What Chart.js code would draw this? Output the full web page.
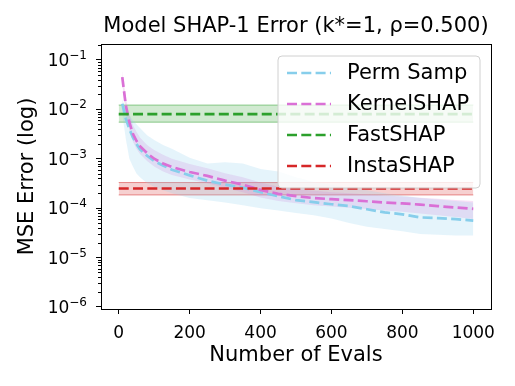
<!DOCTYPE html>
<html>
<head>
<meta charset="utf-8">
<script src="https://cdn.jsdelivr.net/npm/chart.js@4.4.1/dist/chart.umd.min.js"></script>
<style>
  html, body { margin: 0; padding: 0; background: #fff; }
  #wrap { width: 515px; height: 386px; }
</style>
</head>
<body>
<div id="wrap"><canvas id="shapErr" width="515" height="386"></canvas></div>
<script>
// values
const evals = [10, 20, 30, 40, 50, 60, 80, 100, 125, 150, 200, 250, 300, 350, 400,
               450, 500, 550, 600, 650, 700, 750, 800, 850, 900, 950, 1000];

const permMean = [1.3e-2, 6.5e-3, 4.0e-3, 2.7e-3, 2.0e-3, 1.55e-3, 1.15e-3, 9.0e-4, 7.3e-4, 6.0e-4,
                  4.6e-4, 3.6e-4, 3.0e-4, 2.6e-4, 2.1e-4, 1.75e-4, 1.45e-4, 1.32e-4, 1.2e-4, 1.1e-4,
                  9.5e-5, 8.2e-5, 7.5e-5, 6.5e-5, 6.3e-5, 6.0e-5, 5.6e-5];
const permUpper = [1.6e-2, 1.0e-2, 7.5e-3, 6.0e-3, 5.0e-3, 4.2e-3, 3.0e-3, 2.4e-3, 1.9e-3, 1.6e-3,
                   1.05e-3, 8.0e-4, 8.5e-4, 8.0e-4, 6.2e-4, 5.5e-4, 4.2e-4, 3.4e-4, 3.0e-4, 2.6e-4,
                   2.3e-4, 2.0e-4, 1.8e-4, 1.6e-4, 1.5e-4, 1.4e-4, 1.3e-4];
const permLower = [8.0e-3, 2.5e-3, 1.0e-3, 7.0e-4, 5.0e-4, 4.2e-4, 3.2e-4, 2.7e-4, 2.3e-4, 2.0e-4,
                   1.6e-4, 1.45e-4, 1.3e-4, 1.15e-4, 1.0e-4, 9.0e-5, 8.0e-5, 7.2e-5, 6.2e-5, 5.0e-5,
                   4.2e-5, 3.8e-5, 3.4e-5, 3.0e-5, 2.9e-5, 2.8e-5, 2.8e-5];

const kernelMean = [4.5e-2, 1.2e-2, 5.5e-3, 3.2e-3, 2.3e-3, 1.8e-3, 1.3e-3, 1.0e-3, 8.0e-4, 6.8e-4,
                    5.4e-4, 4.5e-4, 3.6e-4, 3.0e-4, 2.35e-4, 1.95e-4, 1.75e-4, 1.6e-4, 1.52e-4, 1.45e-4,
                    1.38e-4, 1.3e-4, 1.25e-4, 1.18e-4, 1.1e-4, 1.03e-4, 9.7e-5];
const kernelUpper = [6.0e-2, 1.7e-2, 8.0e-3, 4.8e-3, 3.5e-3, 2.7e-3, 1.9e-3, 1.5e-3, 1.2e-3, 1.0e-3,
                     7.8e-4, 6.4e-4, 5.1e-4, 4.2e-4, 3.3e-4, 2.7e-4, 2.45e-4, 2.25e-4, 2.1e-4, 2.0e-4,
                     1.9e-4, 1.8e-4, 1.72e-4, 1.63e-4, 1.55e-4, 1.47e-4, 1.4e-4];
const kernelLower = [3.2e-2, 8.5e-3, 3.8e-3, 2.2e-3, 1.6e-3, 1.25e-3, 9.0e-4, 7.0e-4, 5.5e-4, 4.7e-4,
                     3.8e-4, 3.2e-4, 2.6e-4, 2.1e-4, 1.65e-4, 1.4e-4, 1.25e-4, 1.15e-4, 1.08e-4, 1.02e-4,
                     9.6e-5, 9.0e-5, 8.5e-5, 7.8e-5, 7.2e-5, 6.6e-5, 6.0e-5];

// flat baselines, drawn over the whole eval range
const flatRange = [0, 1000];
const fastMean = 8.0e-3, fastLower = 5.5e-3, fastUpper = 1.22e-2;
const instaMean = 2.5e-4, instaLower = 1.85e-4, instaUpper = 3.3e-4;

const seriesNames = ['Perm Samp', 'KernelSHAP', 'FastSHAP', 'InstaSHAP'];
const yTickExps = [-6, -5, -4, -3, -2, -1];
const xTicks = [0, 200, 400, 600, 800, 1000];
const titleText = 'Model SHAP-1 Error (k*=1, \u03c1=0.500)';

const colors = ['#87ceeb', '#da70d6', '#2ca02c', '#d62728'];
const bandFill = ['rgba(135,206,235,0.22)', 'rgba(218,112,214,0.22)', 'rgba(44,160,44,0.22)', 'rgba(214,39,40,0.22)'];
const bandEdge = ['rgba(0,0,0,0)', 'rgba(0,0,0,0)', 'rgba(44,160,44,0.5)', 'rgba(214,39,40,0.5)'];
const dash = [10, 4.3];
const FONT = "'DejaVu Sans', sans-serif";

function pts(xs, ys) {
    var out = [];
    for (var i = 0; i < xs.length; i++) out.push({x: xs[i], y: ys[i]});
    return out;
}
function flat(v) { return pts(flatRange, [v, v]); }

function bandPair(lo, hi, k) {
    return [
        {data: lo, borderWidth: k >= 2 ? 1 : 0, borderColor: bandEdge[k], pointRadius: 0, fill: false, order: 5, tension: 0},
        {data: hi, borderWidth: k >= 2 ? 1 : 0, borderColor: bandEdge[k], backgroundColor: bandFill[k], pointRadius: 0, fill: '-1', order: 5, tension: 0}
    ];
}
function line(data, k) {
    return {label: seriesNames[k], data: data, borderColor: colors[k], borderWidth: 2.7, borderDash: dash,
            pointRadius: 0, fill: false, order: 4 - k, tension: 0};
}

const datasets = [].concat(
    bandPair(pts(evals, permLower), pts(evals, permUpper), 0),
    bandPair(pts(evals, kernelLower), pts(evals, kernelUpper), 1),
    bandPair(flat(fastLower), flat(fastUpper), 2),
    bandPair(flat(instaLower), flat(instaUpper), 3),
    [line(pts(evals, permMean), 0), line(pts(evals, kernelMean), 1), line(flat(fastMean), 2), line(flat(instaMean), 3)]
);

// box round the plot, minor log ticks, 10^n labels, title and the legend
const framePlugin = {
    id: 'frame',
    afterDatasetsDraw(chart) {
        const ctx = chart.ctx, a = chart.chartArea, ys = chart.scales.y;
        ctx.save();
        ctx.strokeStyle = '#000';
        ctx.lineWidth = 1;
        ctx.beginPath();
        for (var e = -7; e <= 0; e++) {
            for (var m = 2; m <= 9; m++) {
                var v = m * Math.pow(10, e);
                if (v < ys.min || v > ys.max) continue;
                var py = Math.round(ys.getPixelForValue(v)) + 0.5;
                ctx.moveTo(a.left - 3, py);
                ctx.lineTo(a.left, py);
            }
        }
        ctx.stroke();
        ctx.strokeRect(Math.round(a.left) + 0.5, Math.round(a.top) + 0.5, Math.round(a.right - a.left), Math.round(a.bottom - a.top));

        // y tick labels as 10 with a raised exponent
        ctx.fillStyle = '#000';
        ctx.textAlign = 'right';
        ctx.textBaseline = 'alphabetic';
        yTickExps.forEach(function (e) {
            var py = ys.getPixelForValue(Math.pow(10, e));
            var ex = '\u2212' + Math.abs(e);
            ctx.font = '12px ' + FONT;
            var ew = ctx.measureText(ex).width;
            ctx.fillText(ex, a.left - 14, py - 1);
            ctx.font = '17px ' + FONT;
            ctx.fillText('10', a.left - 14 - ew, py + 6);
        });

        // title centred over the plot
        ctx.font = '21px ' + FONT;
        ctx.textAlign = 'center';
        ctx.textBaseline = 'middle';
        ctx.fillText(titleText, (a.left + a.right) / 2, 27);

        // legend
        var lx = 278, ly = 56, lw = 202, lh = 132, r = 4;
        ctx.beginPath();
        ctx.moveTo(lx + r, ly);
        ctx.arcTo(lx + lw, ly, lx + lw, ly + lh, r);
        ctx.arcTo(lx + lw, ly + lh, lx, ly + lh, r);
        ctx.arcTo(lx, ly + lh, lx, ly, r);
        ctx.arcTo(lx, ly, lx + lw, ly, r);
        ctx.closePath();
        ctx.fillStyle = 'rgba(255,255,255,0.8)';
        ctx.fill();
        ctx.strokeStyle = '#d0d0d0';
        ctx.stroke();
        ctx.font = '21px ' + FONT;
        ctx.textBaseline = 'middle';
        ctx.textAlign = 'left';
        for (var k = 0; k < seriesNames.length; k++) {
            var ry = 73 + k * 31;
            ctx.beginPath();
            ctx.setLineDash(dash);
            ctx.lineWidth = 2.7;
            ctx.strokeStyle = colors[k];
            ctx.moveTo(287, ry);
            ctx.lineTo(331, ry);
            ctx.stroke();
            ctx.setLineDash([]);
            ctx.fillStyle = '#000';
            ctx.fillText(seriesNames[k], 347, ry + 1);
        }
        ctx.restore();
    }
};

const ctx = document.getElementById('shapErr').getContext('2d');
const errChart = new Chart(ctx, {
    type: 'line',
    data: {datasets: datasets},
    plugins: [framePlugin],
    options: {
        responsive: false,
        animation: false,
        layout: {padding: {left: 0, right: 24, top: 44, bottom: 0}},
        plugins: {
            legend: {display: false},
            tooltip: {enabled: false},
            title: {display: false}
        },
        scales: {
            x: {
                type: 'linear',
                min: -50,
                max: 1050,
                afterFit: function (s) { s.height = 77; },
                afterBuildTicks: function (s) { s.ticks = xTicks.map(function (v) { return {value: v}; }); },
                grid: {display: true, drawOnChartArea: false, drawTicks: true, tickLength: 5, color: '#000'},
                border: {display: true, color: '#000', width: 1},
                ticks: {color: '#000', font: {family: FONT, size: 17}, padding: 9, maxRotation: 0,
                        callback: function (v) { return String(v); }},
                title: {display: true, text: 'Number of Evals', color: '#000',
                        font: {family: FONT, size: 21}, padding: {top: 0, bottom: 18}}
            },
            y: {
                type: 'logarithmic',
                min: 9.1e-7,
                max: 0.21,
                afterFit: function (s) { s.width = 101; },
                afterBuildTicks: function (s) {
                    s.ticks = yTickExps.map(function (e) { return {value: Math.pow(10, e), major: true}; });
                },
                grid: {display: true, drawOnChartArea: false, drawTicks: true, tickLength: 5, color: '#000'},
                border: {display: true, color: '#000', width: 1},
                ticks: {display: false},
                title: {display: true, text: 'MSE Error (log)', color: '#000',
                        font: {family: FONT, size: 21}, padding: {top: 15, bottom: 0}}
            }
        }
    }
});
</script>
</body>
</html>
